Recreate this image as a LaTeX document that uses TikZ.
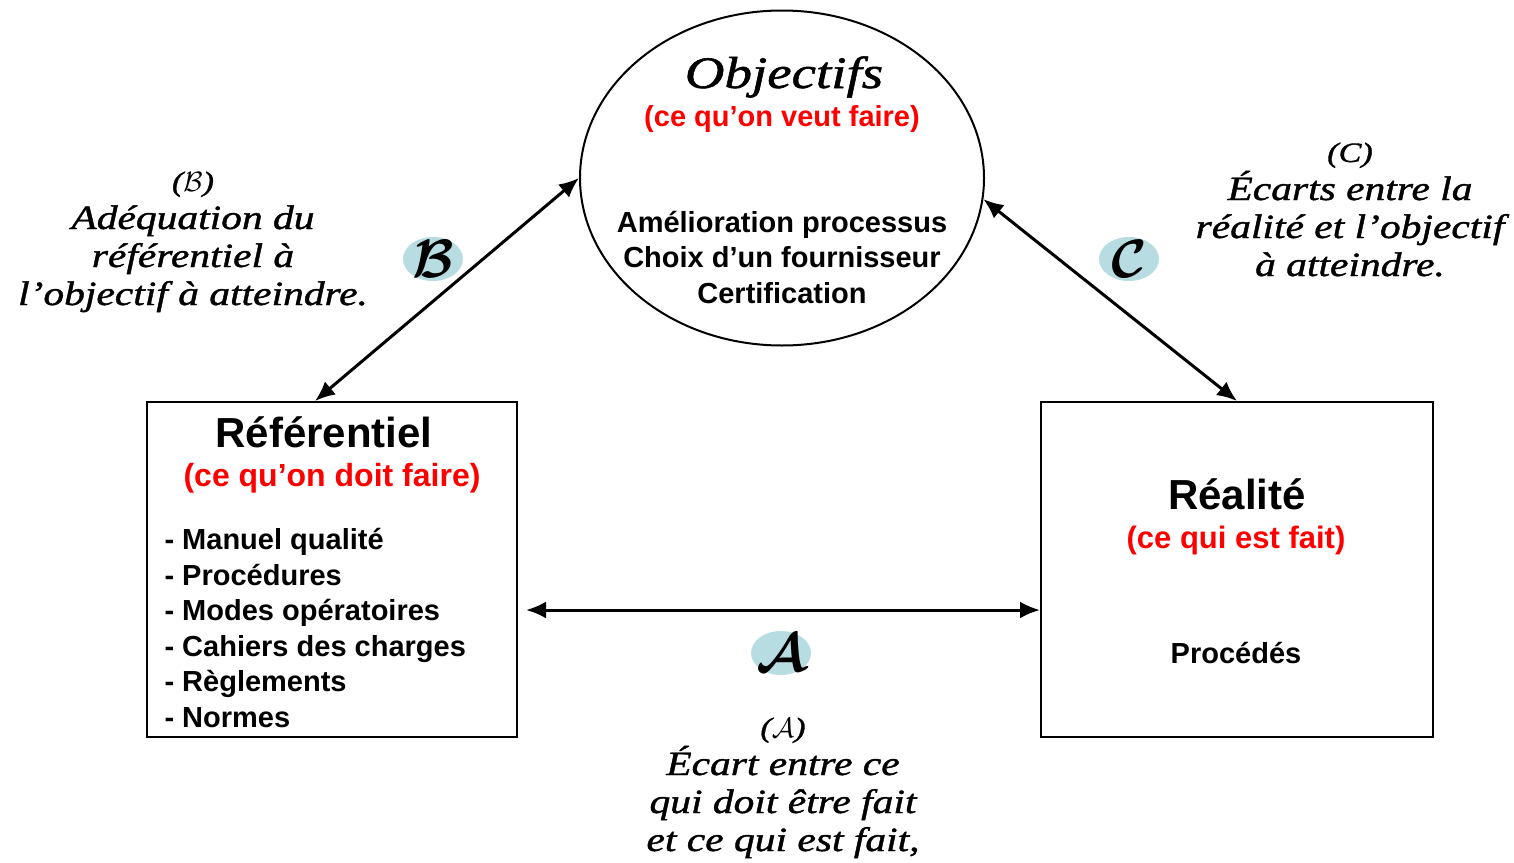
\RequirePackage{fix-cm}
\documentclass[tikz,border=0pt]{standalone}
\usepackage{fontspec}
\setmainfont{Liberation Sans}
\newfontfamily\callig{Liberation Serif}[FakeStretch=1.22, FakeBold=1.2]
\usepackage{xcolor}
\usepackage{tikz}
\usetikzlibrary{shapes.geometric, arrows.meta, calc}
\definecolor{bleubulle}{RGB}{183,221,226}

\begin{document}
\begin{tikzpicture}[x=1pt, y=-1pt,
  cadre/.style={draw, line width=2pt, inner sep=0pt},
  fleche/.style={line width=3pt, {Latex[length=20pt,width=17pt]}-{Latex[length=20pt,width=17pt]}},
  bulle/.style={ellipse, fill=bleubulle, minimum width=60pt, minimum height=44pt, inner sep=0pt},
  lettre/.style={font=\boldmath\fontsize{54}{54}\selectfont, inner sep=0pt},
  gras/.style={font=\bfseries\fontsize{29}{35.5}\selectfont, anchor=base},
  manus/.style={font=\callig\itshape\fontsize{34}{38}\selectfont, align=center, anchor=base}]
\useasboundingbox (0,0) rectangle (1514,862);

% les trois blocs
\node[cadre, ellipse, minimum width=404, minimum height=335] (obj) at (782,178) {};
\node[cadre, minimum width=370, minimum height=335] (ref) at (332,569.5) {};
\node[cadre, minimum width=392, minimum height=335] (real) at (1237,569.5) {};

% objectifs (base = derniere ligne)
\node[manus, font=\callig\itshape\fontsize{45}{50}\selectfont] (objT) at (784,88) {Objectifs};
\node[gras, text=red] (objS) at (782,126) {(ce qu’on veut faire)};
\node[gras, align=center] (objL) at (782,303) {Amélioration processus\\Choix d’un fournisseur\\Certification};

% referentiel
\node[gras, font=\bfseries\fontsize{42}{48}\selectfont] (refT) at (324,447) {Référentiel};
\node[gras, font=\bfseries\fontsize{32}{36}\selectfont, text=red] (refS) at (332,486) {(ce qu’on doit faire)};
\node[gras, anchor=base west, align=left] (refL) at (161,727) {- Manuel qualité\\- Procédures\\- Modes opératoires\\- Cahiers des charges\\- Règlements\\- Normes};

% realite
\node[gras, font=\bfseries\fontsize{42}{48}\selectfont] (realT) at (1237,509) {Réalité};
\node[gras, font=\bfseries\fontsize{31}{36}\selectfont, text=red] (realS) at (1236,548) {(ce qui est fait)};
\node[gras] (realL) at (1236,663) {Procédés};

% liaisons
\draw[fleche] ([shift={(8,40.5)}]ref.east) -- ([shift={(0,40.5)}]real.west);
\draw[fleche] ([xshift=-17]ref.north) -- (obj.west);
\draw[fleche] (obj.-6) -- (real.north);

% bulles
\node[bulle] (bulB) at (433,259) {};
\node[lettre] at (bulB) {$\mathcal{B}$};
\node[bulle] (bulC) at (1129,259) {};
\node[lettre] at (bulC) {$\mathcal{C}$};
\node[bulle] (bulA) at (781,653) {};
\node[lettre] at (bulA) {$\mathcal{A}$};

% commentaires
\node[manus] (comB) at (193,305) {{\fontsize{28}{38}\selectfont($\mathcal{B}$)}\\Adéquation du\\référentiel à\\l’objectif à atteindre.};
\node[manus] (comC) at (1350,276) {{\fontsize{28}{38}\selectfont(C)}\\Écarts entre la\\réalité et l’objectif\\à atteindre.};
\node[manus] (comA) at (783,851) {{\fontsize{28}{38}\selectfont($\mathcal{A}$)}\\Écart entre ce\\qui doit être fait\\et ce qui est fait,};
\end{tikzpicture}
\end{document}
